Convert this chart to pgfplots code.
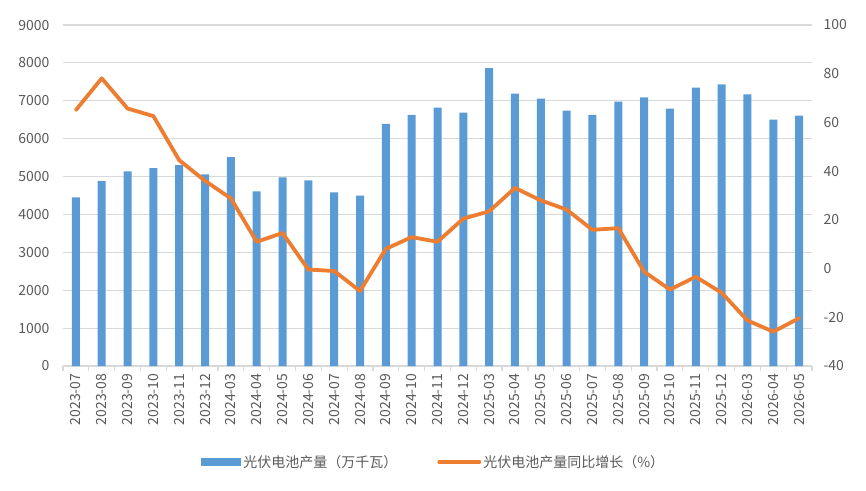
\documentclass[border=0pt]{standalone}
\usepackage{pgfplots}
\usepackage{pgfplotstable}
\pgfplotsset{compat=1.18}
\usepackage{fontspec}
\setmainfont{Noto Sans CJK SC}

\definecolor{barblue}{HTML}{5B9BD5}
\definecolor{lineorange}{HTML}{ED7D31}
\definecolor{txtgray}{HTML}{595959}
\definecolor{gridgray}{HTML}{D9D9D9}

% idx, month, output (10 MW), year-on-year growth (%)
\pgfplotstableread{
idx label value yoy
0  2023-07 4450 65.1
1  2023-08 4880 78.1
2  2023-09 5140 65.7
3  2023-10 5220 62.6
4  2023-11 5300 44.5
5  2023-12 5060 36.0
6  2024-03 5510 28.8
7  2024-04 4610 11.0
8  2024-05 4980 14.6
9  2024-06 4900 -0.4
10 2024-07 4580 -1.0
11 2024-08 4500 -9.2
12 2024-09 6390 8.1
13 2024-10 6630 12.9
14 2024-11 6820 11.0
15 2024-12 6690 20.5
16 2025-03 7860 23.5
17 2025-04 7190 33.1
18 2025-05 7060 28.0
19 2025-06 6740 24.2
20 2025-07 6630 15.9
21 2025-08 6980 16.6
22 2025-09 7090 -1.3
23 2025-10 6790 -8.6
24 2025-11 7350 -3.4
25 2025-12 7430 -9.9
26 2026-03 7170 -21.3
27 2026-04 6500 -25.9
28 2026-05 6610 -20.4
}\datatable

\pgfplotsset{
  common/.style={
    scale only axis,
    width=749bp, height=341bp,
    at={(0,0)}, anchor=south west,
    xmin=-0.5, xmax=28.5,
    tick label style={font=\fontsize{14bp}{16bp}\selectfont, text=txtgray},
    /pgf/number format/assume math mode=true,
    /pgf/number format/1000 sep={},
  },
}

\begin{document}
\begin{tikzpicture}
\useasboundingbox (-63bp,-125bp) rectangle (803bp,366bp);

% left axis: bars
\begin{axis}[
  common,
  ymin=0, ymax=9000, ytick distance=1000,
  axis x line*=bottom,
  axis y line*=left,
  y axis line style={draw=none},
  ymajorgrids,
  grid style={gridgray, line width=1.2bp},
  x axis line style={gridgray, line width=1.2bp, -},
  xtick=data,
  xticklabels from table={\datatable}{label},
  x tick label style={rotate=90, anchor=east},
  major x tick style={draw=none},
  minor xtick={-0.5,0.5,...,28.5},
  minor tick length=5bp,
  minor x tick style={gridgray, line width=1.2bp},
  xtick align=outside,
  yticklabel style={anchor=east, xshift=-10bp},
  major y tick style={draw=none},
  legend style={
    at={(0.495,-0.2815)}, anchor=center,
    draw=none, fill=none,
    legend columns=2,
    font=\fontsize{14bp}{16bp}\selectfont,
    text=txtgray,
    /tikz/every even column/.append style={column sep=38bp},
  },
]
\addplot[ybar, bar width=8bp, fill=barblue, draw=none,
  legend image code/.code={\fill[barblue] (0bp,-4bp) rectangle (40bp,4bp);}]
  table[x=idx, y=value] {\datatable};
\addlegendentry{光伏电池产量（万千瓦）}
\addlegendimage{lineorange, line width=4bp, line cap=round,
  legend image code/.code={\draw[lineorange, line width=4bp, line cap=round] (2bp,0bp) -- (42bp,0bp);}}
\addlegendentry{光伏电池产量同比增长（\%）}
\end{axis}

% right axis: growth line
\begin{axis}[
  common,
  ymin=-40, ymax=100, ytick distance=20,
  axis x line=none,
  axis y line*=right,
  y axis line style={draw=none},
  major y tick style={draw=none},
  yticklabel style={anchor=west, xshift=8bp},
]
\addplot[lineorange, line width=3.8bp, line join=round, line cap=round, mark=none]
  table[x=idx, y=yoy] {\datatable};
\end{axis}
\end{tikzpicture}
\end{document}
